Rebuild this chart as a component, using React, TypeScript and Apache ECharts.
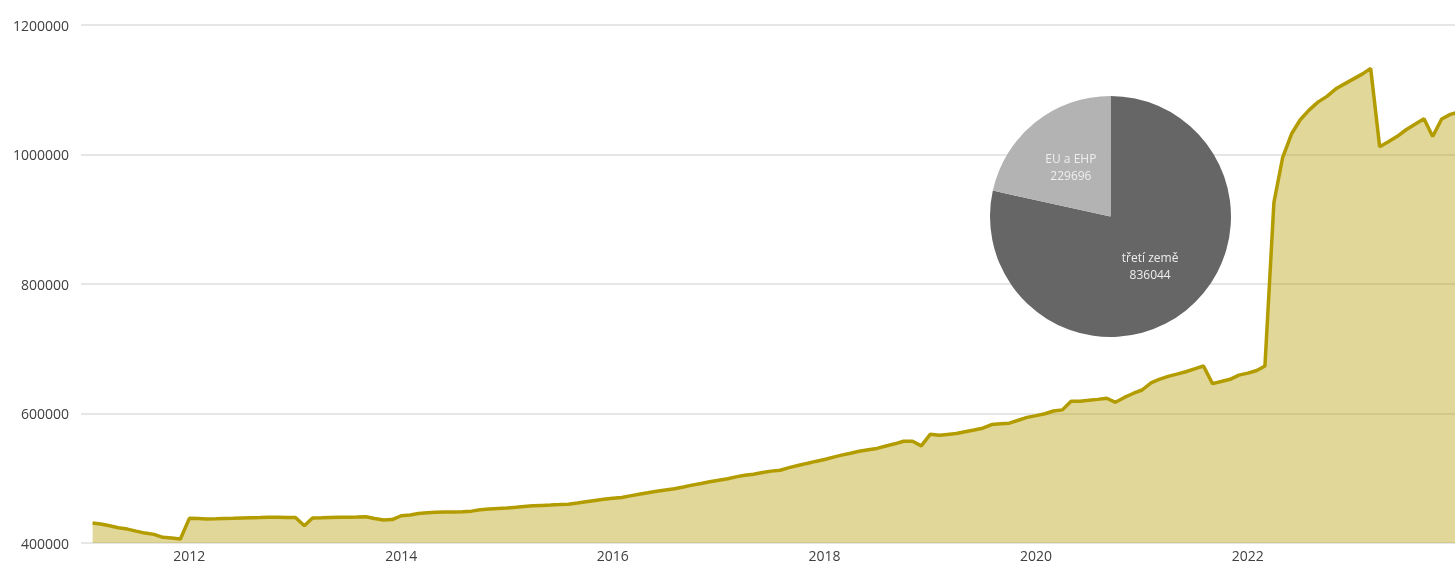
import React, { useEffect, useRef } from "react";
import * as echarts from "echarts";

// Monthly stock of foreigners, one array per year (2011 starts in February)
const values2011 = [430800, 429300, 426700, 423600, 421500, 418300, 415300, 413300, 408700, 407700, 406200];
const values2012 = [438100, 437800, 437000, 437300, 437800, 438100, 438550, 439000, 439300, 439600, 439600, 439300];
const values2013 = [439500, 426700, 438550, 438900, 439300, 439600, 439900, 440200, 440550, 437800, 435500, 436200];
const values2014 = [442100, 443200, 445500, 446700, 447300, 447700, 448000, 448400, 449200, 451200, 452400, 453300];
const values2015 = [454100, 455200, 456300, 457400, 458100, 458700, 459300, 460000, 461700, 463800, 465800, 467500];
const values2016 = [469100, 470300, 472800, 475200, 477500, 479900, 481900, 483900, 486500, 489400, 491900, 494500];
const values2017 = [497000, 499200, 502100, 504700, 506300, 508800, 511000, 512400, 516400, 519600, 522900, 526000];
const values2018 = [529000, 532600, 535700, 538700, 541800, 544100, 546100, 549800, 553200, 557200, 557200, 550000];
const values2019 = [568000, 566500, 567700, 569000, 571900, 574500, 577300, 583000, 584100, 585000, 589600, 594000];
const values2020 = [596700, 599600, 603900, 605600, 618900, 618900, 620300, 621800, 623500, 617300, 624800, 630900];
const values2021 = [636300, 647400, 652800, 657400, 660800, 664500, 669000, 673300, 646200, 649400, 652800, 659300];
const values2022 = [662400, 666400, 673300, 925600, 995000, 1032000, 1053600, 1069000, 1081300, 1089800, 1101400, 1109100];
const values2023 = [1116800, 1124500, 1133000, 1012000, 1019700, 1028100, 1038200, 1046600, 1055100, 1027900, 1054800, 1062000];
const values2024 = [1065740];

const yearly: [number, number, number[]][] = [
  [2011, 1, values2011],
  [2012, 0, values2012],
  [2013, 0, values2013],
  [2014, 0, values2014],
  [2015, 0, values2015],
  [2016, 0, values2016],
  [2017, 0, values2017],
  [2018, 0, values2018],
  [2019, 0, values2019],
  [2020, 0, values2020],
  [2021, 0, values2021],
  [2022, 0, values2022],
  [2023, 0, values2023],
  [2024, 0, values2024],
];

const pieNames = ["třetí země", "EU a EHP"];
const pieValues = [836044, 229696];
const pieColors = ["#666666", "#b3b3b3"];

const yTicks = { min: 400000, max: 1200000, interval: 200000 };
const xRange = { min: [2010, 11, 23], max: [2023, 11, 17] };

export default function App() {
  const ref = useRef<HTMLDivElement>(null);

  useEffect(() => {
    document.body.style.margin = "0";
    if (!ref.current) return;
    const chart = echarts.init(ref.current, null, { renderer: "svg" });

    const lineData: [number, number][] = [];
    yearly.forEach(([year, startMonth, vals]) => {
      vals.forEach((v, i) => {
        lineData.push([new Date(year, startMonth + i, 1).getTime(), v]);
      });
    });

    const font = "'Open Sans', 'Noto Sans', sans-serif";

    chart.setOption({
      animation: false,
      grid: { left: 81, right: 0, top: 25, bottom: 18 },
      xAxis: {
        type: "time",
        min: new Date(xRange.min[0], xRange.min[1], xRange.min[2]).getTime(),
        max: new Date(xRange.max[0], xRange.max[1], xRange.max[2]).getTime(),
        splitNumber: 7,
        axisLine: { show: false },
        axisTick: { show: false },
        splitLine: { show: false },
        axisLabel: {
          margin: 5,
          fontSize: 14,
          fontFamily: font,
          fontWeight: "normal",
          color: "#404040",
          hideOverlap: false,
          showMinLabel: false,
          showMaxLabel: false,
          formatter: (value: number) => {
            const d = new Date(value);
            if (d.getMonth() === 0 && d.getDate() === 1 && d.getFullYear() % 2 === 0) {
              return String(d.getFullYear());
            }
            return "";
          },
        },
      },
      yAxis: {
        type: "value",
        min: yTicks.min,
        max: yTicks.max,
        interval: yTicks.interval,
        axisLine: { show: false },
        axisTick: { show: false },
        axisLabel: {
          margin: 12,
          fontSize: 14,
          fontFamily: font,
          color: "#404040",
          formatter: (v: number) => String(v),
        },
        splitLine: { lineStyle: { color: "#e6e6e6", width: 2 } },
      },
      series: [
        {
          type: "line",
          data: lineData,
          showSymbol: false,
          symbol: "none",
          clip: true,
          lineStyle: { color: "#b39c00", width: 3.5 },
          itemStyle: { color: "#b39c00" },
          areaStyle: { color: "#b39c00", opacity: 0.4 },
          z: 2,
        },
        {
          type: "pie",
          center: [1110.5, 216.5],
          radius: 120.5,
          startAngle: 90,
          clockwise: true,
          z: 10,
          label: {
            show: true,
            position: "inside",
            formatter: "{b}\n{c}",
            color: "#eeeeee",
            fontSize: 12,
            lineHeight: 17,
            fontFamily: font,
          },
          labelLine: { show: false },
          itemStyle: { borderWidth: 0 },
          emphasis: { disabled: true },
          data: pieNames.map((n, i) => ({
            name: n,
            value: pieValues[i],
            itemStyle: { color: pieColors[i] },
          })),
        },
      ],
    });

    return () => chart.dispose();
  }, []);

  return (
    <div
      ref={ref}
      style={{ position: "fixed", left: 0, top: 0, width: 1455, height: 562 }}
    />
  );
}
